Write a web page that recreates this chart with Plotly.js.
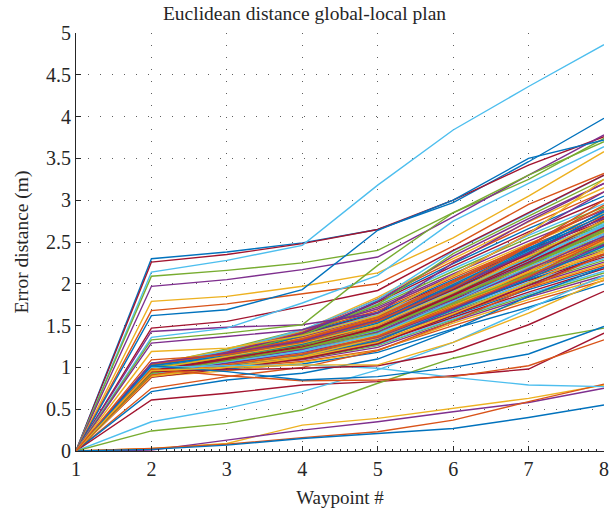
<!DOCTYPE html>
<html>
<head>
<meta charset="utf-8">
<script src="https://cdn.plot.ly/plotly-3.0.1.min.js"></script>
<style>html,body{margin:0;padding:0;background:#fff;}#chart{width:609px;height:513px;}</style>
</head>
<body>
<div id="chart"></div>
<script>
// Waypoint index (x axis)
const waypoints = [1, 2, 3, 4, 5, 6, 7, 8];

// Runs far above the main bundle (error distance in m per waypoint)
const highRuns = [
  [0, 2.30, 2.38, 2.49, 2.65, 2.97, 3.46, 3.98],
  [0, 2.26, 2.35, 2.48, 2.65, 3.00, 3.42, 3.76],
  [0, 2.14, 2.28, 2.46, 3.18, 3.84, 4.36, 4.86],
  [0, 2.09, 2.16, 2.25, 2.40, 2.85, 3.25, 3.74],
  [0, 1.97, 2.05, 2.17, 2.32, 2.80, 3.30, 3.78],
  [0, 1.79, 1.85, 1.97, 2.13, 2.55, 3.05, 3.58],
  [0, 1.68, 1.76, 1.88, 2.00, 2.45, 2.95, 3.32],
  [0, 1.62, 1.69, 1.93, 2.64, 3.00, 3.50, 3.72],
  [0, 1.47, 1.55, 1.73, 1.92, 2.40, 2.85, 3.30],
  [0, 1.43, 1.48, 1.51, 1.65, 2.25, 2.75, 3.20],
  [0, 1.36, 1.47, 1.77, 2.10, 2.75, 3.20, 3.64],
  [0, 1.33, 1.41, 1.51, 2.22, 2.85, 3.30, 3.70],
  [0, 1.29, 1.37, 1.45, 1.70, 2.10, 2.60, 3.10],
  [0, 1.19, 1.23, 1.38, 1.62, 2.10, 2.60, 3.25],
  [0, 1.09, 1.15, 1.30, 1.55, 1.95, 2.45, 3.00]
];
const highColors = ['b','m','c','g','p','y','o','b','m','p','c','g','p','y','o'];

// Runs below / under the main bundle
const lowRuns = [
  [0, 0.75, 0.89, 1.00, 1.20, 1.55, 1.95, 2.35],
  [0, 0.71, 0.85, 0.93, 1.10, 1.45, 1.85, 2.20],
  [0, 0.61, 0.69, 0.79, 0.83, 0.90, 0.98, 1.41],
  [0, 0.35, 0.51, 0.71, 0.97, 1.30, 1.70, 2.10],
  [0, 0.24, 0.33, 0.49, 0.81, 1.11, 1.31, 1.47],
  [0, 0.03, 0.09, 0.31, 0.39, 0.51, 0.63, 0.79],
  [0, 0.01, 0.13, 0.25, 0.35, 0.47, 0.58, 0.75],
  [0, 0.03, 0.08, 0.16, 0.23, 0.37, 0.59, 0.80],
  [0, 0.02, 0.07, 0.15, 0.21, 0.27, 0.40, 0.55],
  [0, 1.00, 1.02, 1.03, 0.99, 0.88, 0.79, 0.77],
  [0, 0.95, 0.97, 0.99, 1.02, 1.19, 1.51, 1.91],
  [0, 0.98, 0.90, 0.84, 0.85, 0.89, 1.02, 1.33],
  [0, 1.02, 0.95, 0.85, 0.89, 1.00, 1.16, 1.49],
  [0, 0.96, 1.00, 1.03, 1.03, 1.30, 1.65, 2.05]
];
const lowColors = ['o','b','m','c','g','y','p','o','b','c','m','o','b','y'];

// Main bundle of runs
const bundleRuns = [
  [0, 0.91, 0.98, 1.04, 1.18, 1.46, 1.72, 2.00],
  [0, 0.97, 1.00, 1.07, 1.21, 1.50, 1.78, 2.04],
  [0, 0.89, 0.96, 1.06, 1.20, 1.53, 1.81, 2.07],
  [0, 1.01, 1.03, 1.09, 1.24, 1.55, 1.84, 2.10],
  [0, 0.94, 1.00, 1.10, 1.26, 1.57, 1.86, 2.13],
  [0, 0.92, 1.02, 1.12, 1.27, 1.58, 1.88, 2.15],
  [0, 0.99, 1.04, 1.11, 1.29, 1.60, 1.90, 2.18],
  [0, 0.95, 1.03, 1.13, 1.30, 1.62, 1.93, 2.20],
  [0, 1.03, 1.06, 1.14, 1.31, 1.63, 1.95, 2.22],
  [0, 0.90, 1.01, 1.15, 1.33, 1.65, 1.96, 2.24],
  [0, 0.96, 1.05, 1.16, 1.34, 1.66, 1.98, 2.26],
  [0, 1.00, 1.07, 1.17, 1.35, 1.68, 2.00, 2.28],
  [0, 0.93, 1.04, 1.18, 1.36, 1.69, 2.02, 2.30],
  [0, 0.98, 1.08, 1.19, 1.38, 1.71, 2.04, 2.32],
  [0, 1.04, 1.09, 1.20, 1.39, 1.72, 2.05, 2.34],
  [0, 0.91, 1.05, 1.21, 1.40, 1.74, 2.07, 2.36],
  [0, 0.97, 1.09, 1.22, 1.41, 1.75, 2.09, 2.38],
  [0, 1.02, 1.10, 1.23, 1.42, 1.77, 2.11, 2.40],
  [0, 0.94, 1.07, 1.24, 1.44, 1.78, 2.12, 2.42],
  [0, 0.99, 1.11, 1.25, 1.45, 1.80, 2.14, 2.44],
  [0, 0.92, 1.08, 1.26, 1.46, 1.81, 2.16, 2.46],
  [0, 1.05, 1.12, 1.27, 1.47, 1.83, 2.18, 2.48],
  [0, 0.96, 1.10, 1.28, 1.49, 1.84, 2.19, 2.50],
  [0, 1.00, 1.13, 1.29, 1.50, 1.86, 2.21, 2.52],
  [0, 0.93, 1.11, 1.30, 1.51, 1.87, 2.23, 2.54],
  [0, 0.98, 1.14, 1.31, 1.53, 1.89, 2.25, 2.56],
  [0, 1.03, 1.15, 1.32, 1.54, 1.90, 2.26, 2.58],
  [0, 0.95, 1.12, 1.33, 1.55, 1.92, 2.28, 2.60],
  [0, 1.01, 1.16, 1.34, 1.57, 1.94, 2.30, 2.62],
  [0, 0.90, 1.13, 1.35, 1.58, 1.95, 2.32, 2.64],
  [0, 0.97, 1.17, 1.36, 1.59, 1.97, 2.34, 2.66],
  [0, 1.04, 1.18, 1.37, 1.61, 1.98, 2.35, 2.68],
  [0, 0.94, 1.15, 1.38, 1.62, 2.00, 2.37, 2.70],
  [0, 0.99, 1.19, 1.39, 1.63, 2.01, 2.39, 2.72],
  [0, 1.02, 1.20, 1.40, 1.65, 2.03, 2.41, 2.75],
  [0, 0.92, 1.16, 1.41, 1.66, 2.05, 2.43, 2.78],
  [0, 0.96, 1.18, 1.42, 1.68, 2.07, 2.45, 2.81],
  [0, 1.00, 1.21, 1.43, 1.70, 2.09, 2.48, 2.84],
  [0, 0.95, 1.19, 1.44, 1.72, 2.12, 2.51, 2.88],
  [0, 1.03, 1.22, 1.45, 1.74, 2.15, 2.55, 2.92],
  [0, 0.98, 1.20, 1.43, 1.76, 2.18, 2.58, 2.96],
  [0, 1.01, 1.17, 1.40, 1.78, 2.21, 2.62, 3.00],
  [0, 0.93, 1.14, 1.38, 1.80, 2.24, 2.66, 3.05],
  [0, 0.97, 1.19, 1.42, 1.82, 2.27, 2.70, 3.10],
  [0, 1.04, 1.21, 1.44, 1.84, 2.30, 2.74, 3.15],
  [0, 0.99, 1.18, 1.41, 1.79, 2.33, 2.78, 3.20],
  [0, 0.95, 1.16, 1.39, 1.75, 2.36, 2.81, 3.25],
  [0, 1.02, 1.20, 1.45, 1.81, 2.39, 2.84, 3.30],
  [0, 0.88, 0.99, 1.10, 1.28, 1.63, 1.98, 2.35],
  [0, 0.91, 1.02, 1.14, 1.32, 1.69, 2.06, 2.45],
  [0, 0.94, 1.06, 1.19, 1.37, 1.74, 2.13, 2.55],
  [0, 0.97, 1.03, 1.13, 1.35, 1.73, 2.15, 2.62],
  [0, 1.00, 1.09, 1.21, 1.43, 1.82, 2.24, 2.66],
  [0, 1.03, 1.13, 1.25, 1.48, 1.88, 2.31, 2.74],
  [0, 0.92, 1.06, 1.20, 1.44, 1.85, 2.27, 2.71],
  [0, 0.96, 1.10, 1.26, 1.52, 1.93, 2.36, 2.80],
  [0, 0.99, 1.14, 1.31, 1.56, 1.99, 2.42, 2.86],
  [0, 1.02, 1.17, 1.34, 1.60, 2.04, 2.47, 2.90],
  [0, 0.90, 1.04, 1.17, 1.39, 1.76, 2.14, 2.51],
  [0, 0.95, 1.08, 1.22, 1.42, 1.79, 2.17, 2.57],
  [0, 0.98, 1.12, 1.27, 1.46, 1.84, 2.22, 2.63],
  [0, 1.01, 1.15, 1.29, 1.52, 1.91, 2.30, 2.69],
  [0, 0.93, 1.09, 1.24, 1.48, 1.87, 2.29, 2.77],
  [0, 0.97, 1.13, 1.28, 1.53, 1.95, 2.38, 2.83],
  [0, 1.04, 1.16, 1.33, 1.58, 2.02, 2.45, 2.94],
  [0, 0.89, 1.00, 1.12, 1.30, 1.64, 2.01, 2.40],
  [0, 0.94, 1.05, 1.18, 1.36, 1.70, 2.08, 2.47],
  [0, 1.00, 1.11, 1.23, 1.41, 1.76, 2.10, 2.49],
  [0, 0.92, 1.07, 1.19, 1.40, 1.79, 2.20, 2.60],
  [0, 0.96, 1.11, 1.24, 1.47, 1.86, 2.26, 2.67],
  [0, 1.02, 1.14, 1.30, 1.55, 1.97, 2.40, 2.87],
  [0, 0.91, 1.03, 1.16, 1.37, 1.72, 2.09, 2.53],
  [0, 0.98, 1.13, 1.29, 1.51, 1.90, 2.33, 2.76],
  [0, 1.05, 1.17, 1.32, 1.56, 1.96, 2.37, 2.79],
  [0, 0.93, 1.08, 1.23, 1.45, 1.83, 2.23, 2.65]
];

// MATLAB default colour order
const palette = {
  b: '#0072BD', o: '#D95319', y: '#EDB120', p: '#7E2F8E',
  g: '#77AC30', c: '#4DBEEE', m: '#A2142F'
};
const cycle = ['b','o','y','p','g','c','m'];

const traces = [];
function addRun(vals, key) {
  traces.push({
    x: waypoints, y: vals, type: 'scatter', mode: 'lines',
    line: {color: palette[key], width: 1.4},
    hoverinfo: 'skip', showlegend: false
  });
}
bundleRuns.forEach((r, i) => addRun(r, cycle[i % 7]));
lowRuns.forEach((r, i) => addRun(r, lowColors[i]));
highRuns.forEach((r, i) => addRun(r, highColors[i]));

const fontFam = '"Liberation Serif", "Times New Roman", serif';
const axisCol = '#262626';
const layout = {
  width: 609, height: 513,
  margin: {l: 76, r: 5, t: 33, b: 62},
  paper_bgcolor: '#fff', plot_bgcolor: '#fff',
  font: {family: fontFam, color: axisCol, size: 19},
  title: {text: 'Euclidean distance global-local plan', font: {family: fontFam, size: 19.5, color: axisCol},
          x: 0.5, xanchor: 'center', y: 0.974, yanchor: 'middle', yref: 'container'},
  xaxis: {
    range: [1, 8], dtick: 1, tick0: 1,
    showline: true, linecolor: axisCol, linewidth: 1, mirror: false,
    ticks: 'inside', ticklen: 5, tickcolor: axisCol, tickwidth: 1,
    minor: {ticks: 'inside', ticklen: 2.5, dtick: 0.1, tickcolor: axisCol, showgrid: false},
    showgrid: true, gridcolor: 'rgba(40,40,40,0.75)', gridwidth: 1, griddash: '1px,11px',
    zeroline: false,
    tickfont: {family: fontFam, size: 20, color: axisCol},
    title: {text: 'Waypoint #', font: {family: fontFam, size: 19, color: axisCol}, standoff: 11}
  },
  yaxis: {
    range: [0, 5], dtick: 0.5, tick0: 0,
    showline: true, linecolor: axisCol, linewidth: 1, mirror: false,
    ticks: 'inside', ticklen: 5, tickcolor: axisCol, tickwidth: 1,
    showgrid: true, gridcolor: 'rgba(40,40,40,0.75)', gridwidth: 1, griddash: '1px,11px',
    zeroline: false,
    tickfont: {family: fontFam, size: 20, color: axisCol},
    title: {text: 'Error distance (m)', font: {family: fontFam, size: 19.5, color: axisCol}, standoff: 12}
  }
};

Plotly.newPlot('chart', traces, layout, {staticPlot: true, displayModeBar: false});
</script>
</body>
</html>
